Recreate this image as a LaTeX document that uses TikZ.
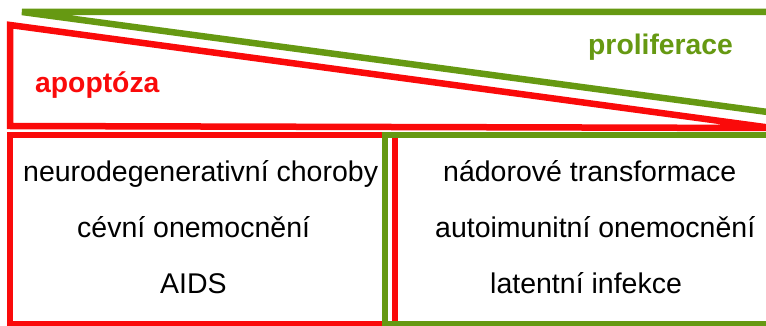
\documentclass[tikz,border=0pt]{standalone}
\usepackage{fontspec}
\setmainfont{Liberation Sans}
\definecolor{apored}{RGB}{250,10,10}
\definecolor{progreen}{RGB}{102,153,18}
\begin{document}
\begin{tikzpicture}[x=1pt,y=-1pt,
  frame/.style={line width=6.5pt,line join=miter},
  heading/.style={inner sep=0pt,anchor=base west,font=\fontsize{28.3}{34}\selectfont\bfseries},
  item/.style={inner sep=0pt,anchor=base west,text=black,font=\fontsize{28.5}{34}\selectfont}]
\useasboundingbox (0,0) rectangle (766,326);
\fill[white] (0,0) rectangle (766,326);
\clip (0,0) rectangle (766,326);

% wedges: apoptosis shrinks to the right, proliferation grows to the right
\draw[frame,apored] (10,25) -- (772,128) -- (10,126) -- cycle;
\draw[frame,progreen] (22,12) -- (790,12) -- (790,115) -- cycle;

% lower panels
\draw[frame,apored] (10,135) rectangle (395,324);
\draw[frame,progreen] (385,135) rectangle (780,324);

% headings
\node[heading,text=apored] (apo) at (35,93) {apoptóza};
\node[heading,text=progreen] (pro) at (588,55) {proliferace};

% conditions linked to too much apoptosis
\node[item] (l1) at (23,182) {neurodegenerativní choroby};
\node[item] (l2) at (77,237) {cévní onemocnění};
\node[item] (l3) at (160,293) {AIDS};

% conditions linked to too much proliferation
\node[item] (r1) at (443,182) {nádorové transformace};
\node[item] (r2) at (435,237) {autoimunitní onemocnění};
\node[item] (r3) at (490,293) {latentní infekce};
\end{tikzpicture}
\end{document}
